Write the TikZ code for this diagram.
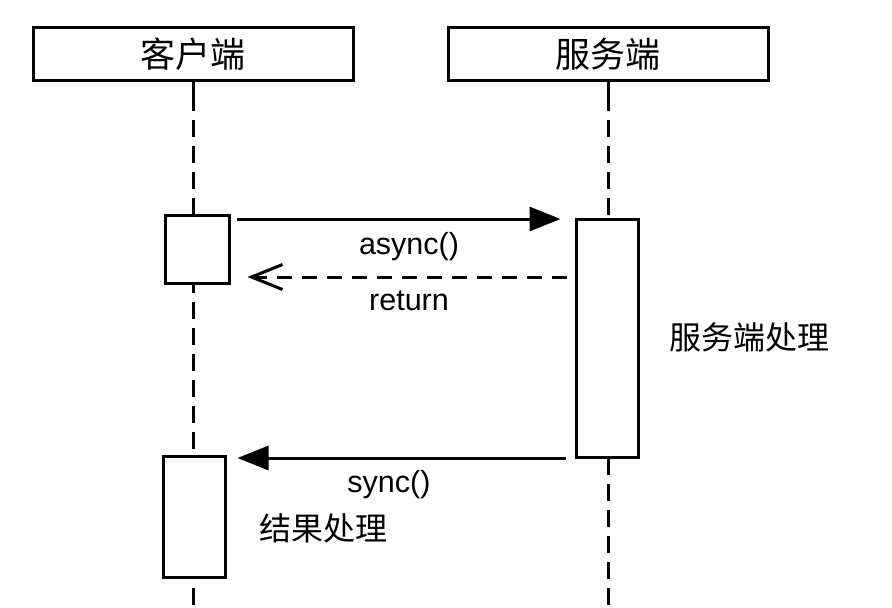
\documentclass[tikz,border=0pt]{standalone}
\usepackage{fontspec}
\setmainfont{Liberation Sans}
\newfontfamily\cjk{Noto Sans CJK SC}
\usetikzlibrary{arrows.meta}
\begin{document}
\begin{tikzpicture}[x=1pt,y=-1pt,
  lw/.style={line width=3pt},
  header/.style={lw,draw,fill=white,minimum width=320pt,minimum height=53pt,inner sep=0pt,font=\cjk\fontsize{35}{38}\selectfont},
  actbox/.style={lw,draw,fill=white,inner sep=0pt},
  lifeline/.style={lw,dash pattern=on 17pt off 9pt},
  msg/.style={lw,-{Triangle[length=31pt,width=24pt]}},
  ret/.style={lw,dash pattern=on 15pt off 10pt,-{Straight Barb[length=31pt,width=25pt,line width=3pt]}},
  lbl/.style={inner sep=0pt,font=\fontsize{30.5}{33}\selectfont},
  clbl/.style={inner sep=0pt,anchor=west,font=\cjk\fontsize{32}{36}\selectfont}]
\useasboundingbox (0,0) rectangle (892,608);
% headers
\node[header] (c) at (193,54) {客户端};
\node[header] (s) at (608,54) {服务端};
% lifeline ends
\coordinate (cend) at (193,612);
\coordinate (send) at (608,612);
\draw[lw] (c.south) -- ++(0,12) coordinate (cl);
\draw[lifeline] (cl) -- (cend);
\draw[lw] (s.south) -- ++(0,12) coordinate (sl);
\draw[lifeline] (sl) -- (send);
% activation boxes
\node[actbox,minimum width=64pt,minimum height=68pt] (a1) at (197,249) {};
\node[actbox,minimum width=62pt,minimum height=238pt] (s1) at (607,338) {};
\node[actbox,minimum width=62pt,minimum height=121pt] (a2) at (194,516.5) {};
% messages
\coordinate (m1s) at (a1.east |- 0,219);
\coordinate (m1e) at (s1.west |- 0,219);
\draw[msg,shorten <=6pt,shorten >=14pt] (m1s) -- (m1e);
\coordinate (m2s) at (s1.west |- 0,277);
\coordinate (m2e) at (a1.east |- 0,277);
\draw[ret,shorten <=8pt,shorten >=17pt] (m2s) -- (m2e);
\coordinate (m3s) at (s1.west |- 0,458);
\coordinate (m3e) at (a2.east |- 0,458);
\draw[msg,shorten <=9pt,shorten >=11pt] (m3s) -- (m3e);
% labels
\node[lbl,anchor=base] (l1) at (409,254) {async()};
\node[lbl,anchor=base] (l2) at (409,310) {return};
\node[lbl,anchor=base] (l3) at (389,492) {sync()};
\node[clbl] (l4) at (669,337) {服务端处理};
\node[clbl] (l5) at (259,528) {结果处理};
\end{tikzpicture}
\end{document}
